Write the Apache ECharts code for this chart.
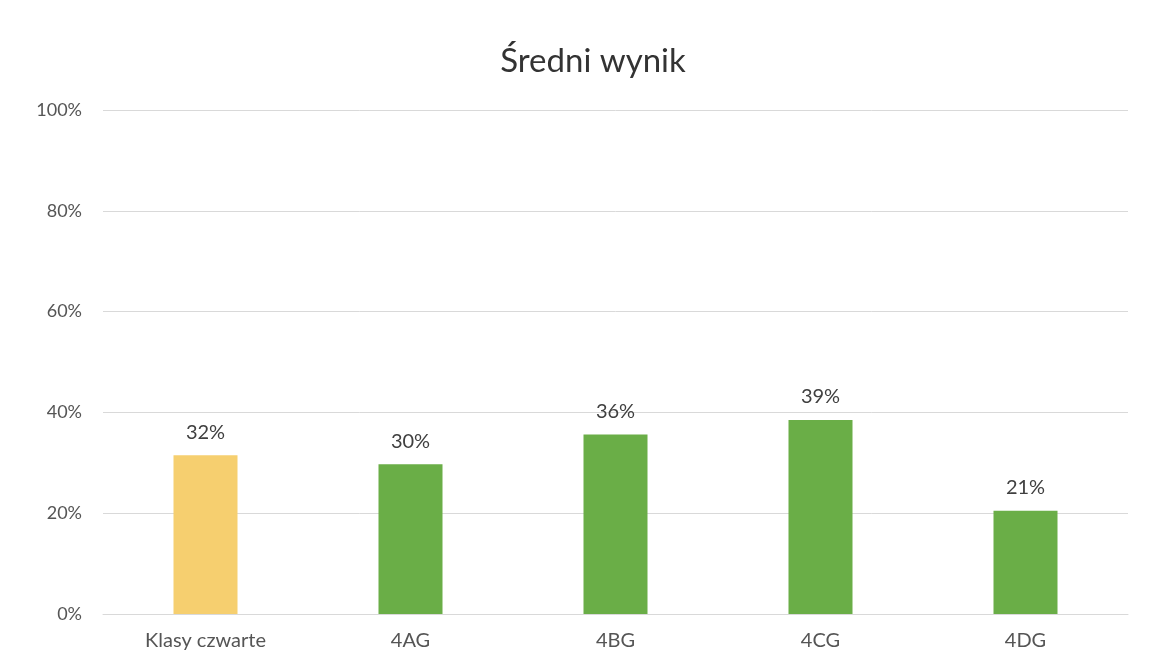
<!DOCTYPE html>
<html>
<head>
<meta charset="utf-8">
<script src="https://cdn.jsdelivr.net/npm/echarts@6/dist/echarts.min.js"></script>
<style>
  html, body { margin: 0; padding: 0; background: #fff; }
  #chart-div { width: 1151px; height: 670px; }
</style>
</head>
<body>
<div id="chart-div"></div>
<script>
// data
var categories = ['Klasy czwarte', '4AG', '4BG', '4CG', '4DG'];
var scores = [31.5, 29.7, 35.6, 38.5, 20.5];
var barColors = ['#f6cf6f', '#6aae47', '#6aae47', '#6aae47', '#6aae47'];
var yTicks = [0, 20, 40, 60, 80, 100];

var chart = echarts.init(document.getElementById('chart-div'));

var textColor = '#555555';
var font = 'Lato, "Open Sans", sans-serif';

var option = {
  backgroundColor: '#ffffff',
  animation: false,
  title: {
    text: 'Średni wynik',
    left: 588,
    top: 40,
    textAlign: 'center',
    textStyle: {
      color: '#333333',
      fontSize: 33,
      fontWeight: 'normal',
      fontFamily: font
    }
  },
  grid: {
    left: 103,
    right: 23,
    top: 110,
    bottom: 56
  },
  xAxis: {
    type: 'category',
    data: categories,
    axisTick: { show: false },
    axisLine: { lineStyle: { color: '#d9d9d9', width: 1 } },
    axisLabel: {
      color: textColor,
      fontSize: 20,
      fontFamily: font,
      margin: 17
    }
  },
  yAxis: {
    type: 'value',
    min: yTicks[0],
    max: yTicks[yTicks.length - 1],
    interval: 20,
    axisLine: { show: false },
    axisTick: { show: false },
    splitLine: { lineStyle: { color: '#d9d9d9', width: 1 } },
    axisLabel: {
      color: textColor,
      fontSize: 18,
      fontFamily: font,
      margin: 21,
      formatter: '{value}%'
    }
  },
  series: [{
    type: 'bar',
    barWidth: 64,
    data: scores.map(function (v, i) {
      return { value: v, itemStyle: { color: barColors[i] } };
    }),
    label: {
      show: true,
      position: 'top',
      distance: 13,
      color: '#404040',
      fontSize: 20,
      fontFamily: font,
      formatter: function (p) { return Math.round(p.value) + '%'; }
    }
  }]
};

chart.setOption(option);
</script>
</body>
</html>
